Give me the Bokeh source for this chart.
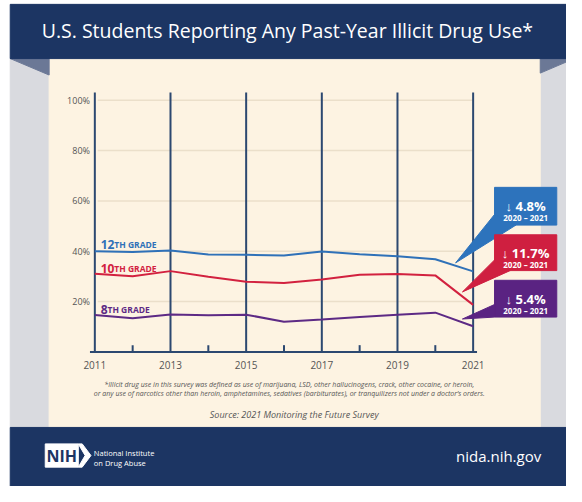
from bokeh.plotting import figure
from bokeh.models import ColumnDataSource
from bokeh.core.properties import value
from bokeh.embed import file_html
from bokeh.resources import INLINE

# ---------------- data ----------------
years = [2011, 2012, 2013, 2014, 2015, 2016, 2017, 2018, 2019, 2020, 2021]
grade12 = [40.0, 39.7, 40.3, 38.7, 38.6, 38.3, 39.9, 38.8, 38.0, 36.8, 32.0]
grade10 = [31.1, 30.1, 32.1, 29.9, 27.9, 27.4, 28.8, 30.7, 31.0, 30.4, 18.7]
grade8 = [14.7, 13.4, 14.9, 14.6, 14.8, 12.0, 12.9, 13.9, 14.8, 15.6, 10.2]

series_names = ["12", "10", "8"]
y_ticks = [20, 40, 60, 80, 100]
y_tick_labels = ["20%", "40%", "60%", "80%", "100%"]
x_ticks = [2011, 2013, 2015, 2017, 2019, 2021]
x_tick_labels = ["2011", "2013", "2015", "2017", "2019", "2021"]
minor_ticks = [2012, 2014, 2016, 2018, 2020]

title = "U.S. Students Reporting Any Past-Year Illicit Drug Use*"
note1 = ("*Illicit drug use in this survey was defined as use of marijuana, LSD, other hallucinogens, "
         "crack, other cocaine, or heroin,")
note2 = ("or any use of narcotics other than heroin, amphetamines, sedatives (barbiturates), "
         "or tranquilizers not under a doctor\u2019s orders.")
source = "Source: 2021 Monitoring the Future Survey"

# ---------------- geometry helpers (reference pixel -> data) ----------------
W, H = 566, 486
XS = 38.9   # reference px per year
YS = 2.6    # reference px per percent
X_2011 = 97
Y_0 = 363


def dx(px):
    return 2011 + (px - X_2011) / XS


def dy(py):
    return (Y_0 - py) / YS


NAVY = "#1c3563"
CREAM = "#fdf3e2"
GRAY = "#d9dadf"
BLUE = "#2f71b8"
RED = "#d2213f"
PURPLE = "#5d2a85"
VLINE = "#2c4870"
FONT = value("Open Sans")

p = figure(width=W, height=H, output_backend="svg", toolbar_location=None,
           x_range=(dx(0), dx(582)), y_range=(dy(502), dy(0)),
           x_axis_type=None, y_axis_type=None, min_border=0)
p.outline_line_color = None
p.grid.visible = False
p.background_fill_color = "white"
p.border_fill_color = "white"

# background pieces
p.quad(left=[dx(10)], right=[dx(590)], top=[dy(60)], bottom=[dy(441)], color=GRAY)
p.quad(left=[dx(50)], right=[dx(555)], top=[dy(60)], bottom=[dy(441)], color=CREAM)
p.patch([dx(10), dx(50), dx(50)], [dy(60), dy(60), dy(77)], color="#6b7896")
p.patch([dx(555), dx(590), dx(555)], [dy(60), dy(60), dy(75)], color="#6b7896")
p.quad(left=[dx(10)], right=[dx(590)], top=[dy(4)], bottom=[dy(60)], color=NAVY)
p.quad(left=[dx(10)], right=[dx(590)], top=[dy(441)], bottom=[dy(510)], color=NAVY)

# title
p.text(x=[dx(295)], y=[dy(31)], text=[title], text_font=FONT, text_font_size="19.5px",
       text_color="white", text_align="center", text_baseline="middle")

# grid lines
p.segment(x0=[dx(100)] * len(y_ticks), x1=[2021] * len(y_ticks), y0=y_ticks, y1=y_ticks,
          line_color="#ebdfca", line_width=1.5)

# vertical year lines, axis line, minor ticks
p.segment(x0=x_ticks, x1=x_ticks, y0=[0] * len(x_ticks), y1=[dy(95)] * len(x_ticks),
          line_color=VLINE, line_width=2)
p.segment(x0=[dx(92)], x1=[dx(490)], y0=[0], y1=[0], line_color=VLINE, line_width=2)
p.segment(x0=minor_ticks, x1=minor_ticks, y0=[0] * len(minor_ticks),
          y1=[dy(356)] * len(minor_ticks), line_color=VLINE, line_width=2)

# tick labels
p.text(x=[dx(92)] * len(y_ticks), y=y_ticks, text=y_tick_labels, text_font=FONT,
       text_font_size="9px", text_color="#555555", text_align="right", text_baseline="middle")
p.text(x=x_ticks, y=[dy(377)] * len(x_ticks), text=x_tick_labels, text_font=FONT,
       text_font_size="10px", text_color="#555555", text_align="center", text_baseline="middle")

# data lines
src = ColumnDataSource(dict(year=years, g12=grade12, g10=grade10, g8=grade8))
p.line("year", "g12", source=src, line_color=BLUE, line_width=2)
p.line("year", "g10", source=src, line_color=RED, line_width=2)
p.line("year", "g8", source=src, line_color=PURPLE, line_width=2)

# grade labels
label_cols = [BLUE, RED, PURPLE]
label_base = [252, 277, 319]
suffix_x = [117, 117, 110]
for name, col, yb, sx in zip(series_names, label_cols, label_base, suffix_x):
    p.text(x=[dx(103)], y=[dy(yb)], text=[name], text_font=FONT, text_font_size="12px",
           text_font_style="bold", text_color=col, text_baseline="alphabetic")
    p.text(x=[dx(sx)], y=[dy(yb)], text=["TH GRADE"], text_font=FONT, text_font_size="8.5px",
           text_font_style="bold", text_color=col, text_baseline="alphabetic")

# callouts
drops = [grade12[-2] - grade12[-1], grade10[-2] - grade10[-1], grade8[-2] - grade8[-1]]
box_cols = ["#2d73bc", "#cf1f40", "#5a2382"]
box_tops = [193, 242, 289]
box_bots = [232, 279, 327]
tails = [
    [(508, 221), (530, 232), (468, 271)],
    [(508, 268), (524, 279), (475, 301)],
    [(508, 314), (508, 327), (475, 329)],
]
for d, col, bt, bb, tail in zip(drops, box_cols, box_tops, box_bots, tails):
    p.quad(left=[dx(508)], right=[dx(572)], top=[dy(bt)], bottom=[dy(bb)], color=col)
    p.patch([dx(t[0]) for t in tail], [dy(t[1]) for t in tail], color=col)
    p.text(x=[dx(540)], y=[dy(bt + 19)], text=["\u2193 %.1f%%" % d], text_font=FONT,
           text_font_size="13px", text_font_style="bold", text_color="white",
           text_align="center", text_baseline="alphabetic")
    p.text(x=[dx(540)], y=[dy(bt + 31)], text=["2020 \u2013 2021"], text_font=FONT,
           text_font_size="8px", text_font_style="bold", text_color="white",
           text_align="center", text_baseline="alphabetic")

# footnotes
p.text(x=[dx(297)] * 2, y=[dy(397), dy(406)], text=[note1, note2], text_font=FONT,
       text_font_size="7px", text_font_style="italic", text_color="#555555",
       text_align="center", text_baseline="alphabetic")
p.text(x=[dx(302)], y=[dy(428)], text=[source], text_font=FONT, text_font_size="9px",
       text_font_style="italic", text_color="#555555", text_align="center",
       text_baseline="alphabetic")

# footer: NIH logo and url
p.quad(left=[dx(46)], right=[dx(80)], top=[dy(458)], bottom=[dy(482)], color="white")
p.patch([dx(80), dx(84), dx(93), dx(84), dx(80), dx(87)],
        [dy(458), dy(458), dy(470), dy(482), dy(482), dy(470)], color="white")
p.text(x=[dx(63)], y=[dy(470)], text=["NIH"], text_font=FONT, text_font_size="16px",
       text_font_style="bold", text_color=NAVY, text_align="center", text_baseline="middle")
p.text(x=[dx(96)] * 2, y=[dy(467), dy(478)], text=["National Institute", "on Drug Abuse"],
       text_font=FONT, text_font_size="7.5px", text_color="white", text_baseline="alphabetic")
p.text(x=[dx(556)], y=[dy(470)], text=["nida.nih.gov"], text_font=FONT, text_font_size="15px",
       text_color="white", text_align="right", text_baseline="middle")

open("out.html", "w").write(file_html(p, INLINE))
